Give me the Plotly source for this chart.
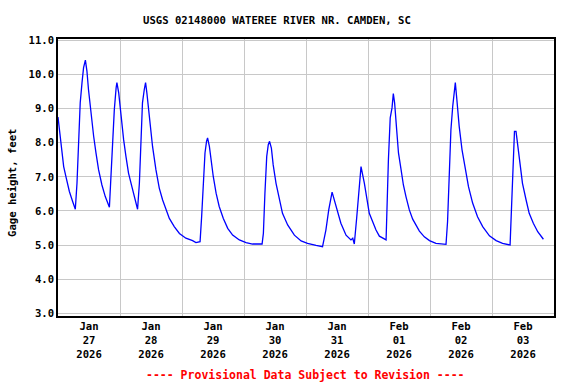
import plotly.graph_objects as go
import pandas as pd

START = pd.Timestamp("2026-01-27 00:00")

# hours after Jan 27 00:00 and gage height (feet)
hours = [0.0, 0.5, 1.3, 2.2, 3.2, 4.4, 5.7, 6.7,
         7.35, 8.0, 8.6, 9.3, 9.9, 10.6,
         11.2, 11.8, 12.8, 13.8, 14.7, 15.7, 17.0, 18.3, 19.9,
         20.5, 21.1, 21.8, 22.5, 22.8,
         23.5, 24.4, 25.4, 26.3, 27.3, 28.6, 29.9, 30.8,
         31.5, 32.1, 32.7, 33.4, 33.9,
         34.4, 35.5, 36.6, 37.9, 39.2, 40.5, 41.8, 43.1, 45.0, 47.0, 49.5,
         52.1, 53.4, 55.0,
         55.6, 56.2, 56.9, 57.5, 57.9,
         58.6, 59.2, 60.1, 61.2, 62.4, 64.0, 65.7, 67.6, 70.2, 72.8, 75.3, 79.0,
         79.5, 80.1, 80.8, 81.4, 81.9,
         82.6, 83.3, 84.4, 85.7, 86.9, 88.9, 91.5, 94.1, 96.6, 99.9, 102.4,
         103.7, 104.8, 106.1,
         107.6, 109.5, 111.5, 113.4, 114.1, 114.7,
         115.6, 116.4, 117.3,
         118.6, 120.5, 123.1, 124.4, 127.0,
         127.2, 127.9, 128.6, 129.3, 129.8,
         130.3, 131.1, 131.8, 132.8, 133.7, 134.7, 136.0, 137.3, 138.6, 139.9,
         141.8, 143.8, 146.3, 150.2,
         150.8, 151.5, 152.1, 152.8, 153.4, 153.8,
         154.4, 155.3, 156.4, 157.7, 158.9, 160.5, 162.4, 164.4, 167.0, 169.6,
         172.1, 175.0,
         175.4, 176.0, 176.7, 177.3,
         177.9, 178.8, 179.8, 181.2, 182.4, 184.0, 185.7, 187.9]
gage = [8.75, 8.38, 7.89, 7.30, 6.96, 6.57, 6.27, 6.05,
        6.81, 8.19, 9.17, 9.76, 10.20, 10.42,
        10.10, 9.56, 8.77, 8.19, 7.70, 7.21, 6.76, 6.42, 6.11,
        7.01, 8.29, 8.97, 9.61, 9.76,
        9.46, 8.77, 8.09, 7.60, 7.11, 6.71, 6.32, 6.05,
        6.81, 8.29, 9.17, 9.56, 9.76,
        9.46, 8.68, 7.89, 7.21, 6.67, 6.32, 6.03, 5.78, 5.54, 5.34, 5.20,
        5.13, 5.07, 5.10,
        5.83, 6.91, 7.70, 8.04, 8.14,
        7.89, 7.50, 7.01, 6.52, 6.13, 5.78, 5.49, 5.29, 5.15, 5.07, 5.03, 5.03,
        5.34, 6.52, 7.60, 7.94, 8.04,
        7.84, 7.35, 6.81, 6.32, 5.93, 5.59, 5.29, 5.12, 5.05, 4.99, 4.95,
        5.44, 6.03, 6.55,
        6.13, 5.64, 5.29, 5.15, 5.20, 5.03,
        5.78, 6.57, 7.30,
        6.81, 5.93, 5.44, 5.26, 5.15,
        5.83, 7.50, 8.73, 9.02, 9.44,
        9.17, 8.38, 7.70, 7.21, 6.76, 6.42, 6.03, 5.76, 5.59, 5.41,
        5.24, 5.13, 5.05, 5.02,
        5.69, 6.96, 8.38, 9.07, 9.46, 9.76,
        9.26, 8.48, 7.79, 7.21, 6.71, 6.23, 5.83, 5.54, 5.27, 5.13,
        5.05, 5.00,
        5.74, 7.21, 8.33, 8.33,
        7.94, 7.30, 6.81, 6.32, 5.93, 5.64, 5.39, 5.17]

day_labels = ["Jan<br>27<br>2026", "Jan<br>28<br>2026", "Jan<br>29<br>2026",
              "Jan<br>30<br>2026", "Jan<br>31<br>2026", "Feb<br>01<br>2026",
              "Feb<br>02<br>2026", "Feb<br>03<br>2026"]
y_ticks = [3.0, 4.0, 5.0, 6.0, 7.0, 8.0, 9.0, 10.0, 11.0]

times = [START + pd.Timedelta(hours=h) for h in hours]
label_pos = [START + pd.Timedelta(hours=12 + 24 * i) for i in range(len(day_labels))]
midnights = [START + pd.Timedelta(days=i) for i in range(len(day_labels) + 1)]

FONT = "DejaVu Sans Mono"
FS = 10.6

fig = go.Figure()
fig.add_trace(go.Scatter(x=times, y=gage, mode="lines",
                         line=dict(color="#0000ff", width=1.3),
                         showlegend=False, hoverinfo="skip"))

fig.update_layout(
    width=576, height=384,
    margin=dict(l=58, r=22, t=39, b=68, autoexpand=False),
    paper_bgcolor="white", plot_bgcolor="white",
    font=dict(family=FONT, size=FS, color="black", weight="bold"),
    xaxis=dict(
        range=[midnights[0], midnights[-1]],
        automargin=False,
        tickmode="array", tickvals=label_pos, ticktext=day_labels,
        showgrid=False, ticks="", ticklen=0,
        tickfont=dict(family=FONT, size=FS, color="black", weight="bold"),
        minor=dict(tickmode="array", tickvals=midnights, showgrid=True,
                   gridcolor="#c8c8c8", gridwidth=1, ticks=""),
        showline=True, linecolor="black", linewidth=1.5, mirror=True,
        zeroline=False,
    ),
    yaxis=dict(
        range=[2.92, 11.04],
        automargin=False,
        tickmode="array", tickvals=y_ticks,
        ticktext=[f"{v:.1f}" for v in y_ticks],
        showgrid=True, gridcolor="#c8c8c8", gridwidth=1,
        ticks="", ticklen=0,
        tickfont=dict(family=FONT, size=FS, color="black", weight="bold"),
        showline=True, linecolor="black", linewidth=1.5, mirror=True,
        zeroline=False,
    ),
)

fig.add_annotation(text="Gage height, feet", textangle=-90,
                   xref="paper", yref="paper",
                   x=(12 - 58) / (554 - 58), y=(384 - 183 - 68) / (384 - 39 - 68),
                   showarrow=False, xanchor="center", yanchor="middle",
                   font=dict(family=FONT, size=FS, color="black", weight="bold"))
fig.add_annotation(text="USGS 02148000 WATEREE RIVER NR. CAMDEN, SC",
                   xref="paper", yref="paper",
                   x=(277 - 58) / (554 - 58), y=(384 - 20 - 68) / (384 - 39 - 68),
                   showarrow=False, xanchor="center", yanchor="middle",
                   font=dict(family=FONT, size=FS, color="black", weight="bold"))
fig.add_annotation(text="---- Provisional Data Subject to Revision ----",
                   xref="paper", yref="paper",
                   x=(305 - 58) / (554 - 58), y=(384 - 375 - 68) / (384 - 39 - 68),
                   showarrow=False, xanchor="center", yanchor="middle",
                   font=dict(family=FONT, size=11.5, color="#ff0000", weight="bold"))

fig.write_html("out.html", config={"displayModeBar": False},
               post_script="document.body.style.margin='0';document.body.style.overflow='hidden';")
